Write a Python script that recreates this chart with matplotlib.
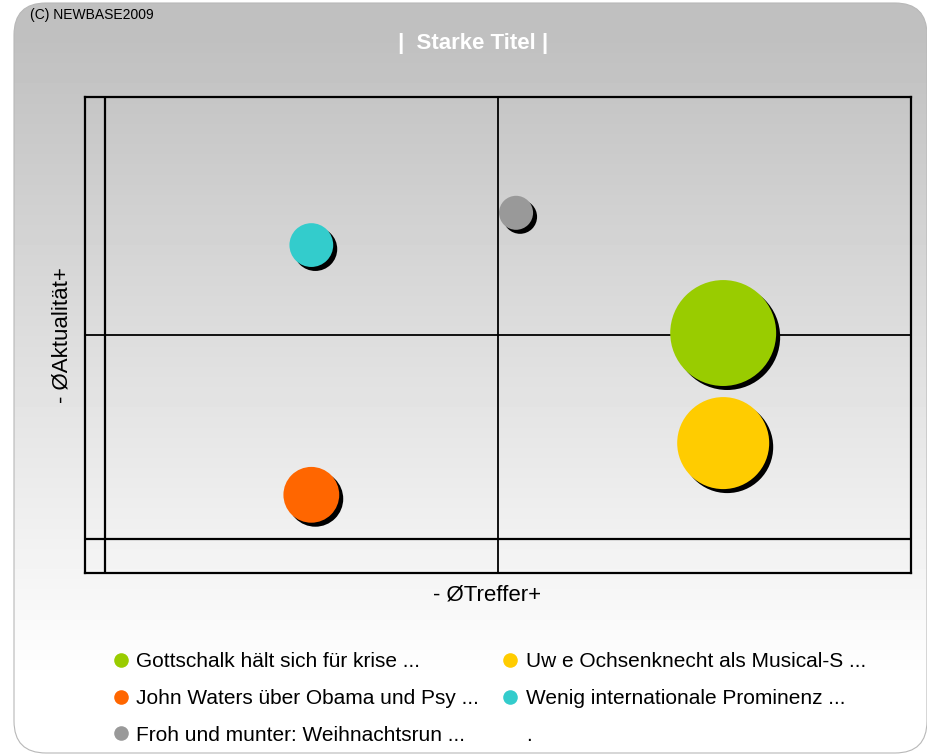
import matplotlib
matplotlib.use("Agg")
import matplotlib.pyplot as plt
from matplotlib.patches import FancyBboxPatch
from matplotlib.lines import Line2D
from matplotlib.transforms import offset_copy
import numpy as np

plt.rcParams['font.family'] = ['Liberation Sans', 'DejaVu Sans']

# Data
titles = ["Gottschalk hält sich für krise ...",
          "Uw e Ochsenknecht als Musical-S ...",
          "John Waters über Obama und Psy ...",
          "Wenig internationale Prominenz ...",
          "Froh und munter: Weihnachtsrun ..."]
treffer = [76.7, 76.7, 25.6, 25.6, 51.0]
aktualitaet = [46.6, 21.7, 10.0, 66.5, 73.8]
bubble_size = [281, 212, 78, 48, 29]
colors = ["#99cc00", "#ffcc00", "#ff6600", "#33cccc", "#999999"]
mean_treffer = 48.8
mean_aktualitaet = 46.2

W, H = 928, 756
fig = plt.figure(figsize=(W / 100, H / 100), dpi=100)

# background panel with vertical gradient
bg = fig.add_axes([0, 0, 1, 1])
bg.set_xlim(0, W)
bg.set_ylim(H, 0)
bg.axis("off")
rows = np.arange(H)
shade = np.clip(192 + (rows - 40) * 63 / 640, 192, 255) / 255
grad = np.repeat(shade[:, None], 2, axis=1)
panel = FancyBboxPatch((14, 3), 913, 750, boxstyle="round,pad=0,rounding_size=32",
                       facecolor="none", edgecolor="#b8b8b8", linewidth=0.8)
bg.add_patch(panel)
im = bg.imshow(grad, cmap="gray", vmin=0, vmax=1, extent=(0, W, H, 0), aspect="auto")
im.set_clip_path(panel)

fig.text(30 / W, 1 - 15 / H, "(C) NEWBASE2009", fontsize=10, va="center", ha="left")
fig.text(473 / W, 1 - 43 / H, "|  Starke Titel |", fontsize=16, fontweight="bold",
         color="white", va="center", ha="center")

# plot area
ax = fig.add_axes([85 / W, 1 - 573 / H, 826 / W, 476 / H])
ax.patch.set_alpha(0)
ax.set_xlim(-2.48, 100)
ax.set_ylim(-7.69, 100)
ax.set_xticks([])
ax.set_yticks([])
for s in ax.spines.values():
    s.set_linewidth(1.6)
    s.set_color("black")
ax.axvline(0, color="black", lw=1.6)
ax.axhline(0, color="black", lw=1.6)
ax.axvline(mean_treffer, color="black", lw=1.3)
ax.axhline(mean_aktualitaet, color="black", lw=1.3)

sizes = np.array(bubble_size) * 20.7
shadow = offset_copy(ax.transData, fig=fig, x=4, y=-4, units="dots")
ax.scatter(treffer, aktualitaet, s=sizes, color="black", transform=shadow, zorder=3,
           linewidths=0)
ax.scatter(treffer, aktualitaet, s=sizes, c=colors, zorder=4, linewidths=0)

ax.set_xlabel("- ØTreffer+", fontsize=16)
ax.set_ylabel("- ØAktualität+", fontsize=16)
ax.xaxis.set_label_coords(0.487, -0.025)
ax.yaxis.set_label_coords(-0.015, 0.5)

# legend (column-wise order)
order = [0, 2, 4, 1, 3]
handles = [Line2D([], [], marker="o", linestyle="none", markersize=10.5,
                  markerfacecolor=colors[i], markeredgewidth=0) for i in order]
labels = [titles[i] for i in order]
handles.append(Line2D([], [], linestyle="none"))
labels.append(".")
fig.legend(handles, labels, loc="upper left", bbox_to_anchor=(106 / W, 1 - 644 / H),
           ncol=2, frameon=False, fontsize=15, handlelength=0.6, handletextpad=0.45,
           columnspacing=1.2, labelspacing=0.85, borderaxespad=0)

fig.savefig("out.png", dpi=100)
